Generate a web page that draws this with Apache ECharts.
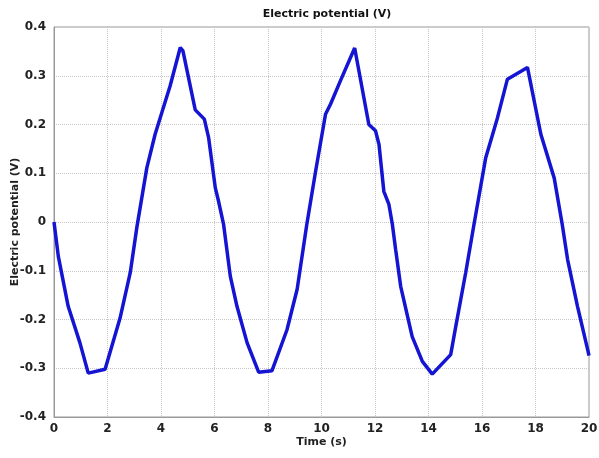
<!DOCTYPE html>
<html>
<head>
<meta charset="utf-8">
<script src="https://cdn.jsdelivr.net/npm/echarts@6/dist/echarts.min.js"></script>
<style>
  html, body { margin: 0; padding: 0; background: #fff; }
  #main { width: 599px; height: 458px; }
</style>
</head>
<body>
<div id="main"></div>
<script>
// time (s) and electric potential (V)
var times = [0, 0.16, 0.53, 0.97, 1.28, 1.91, 2.47, 2.85, 3.1, 3.47, 3.78, 4.09, 4.34, 4.72, 4.82,
  5.28, 5.62, 5.78, 6.03, 6.15, 6.34, 6.59, 6.84, 7.22, 7.65, 8.15, 8.71, 9.09, 9.45, 9.78,
  10.15, 10.34, 10.71, 11.24, 11.77, 12.02, 12.15, 12.33, 12.52, 12.65, 12.77, 12.96, 13.39, 13.77,
  14.14, 14.83, 15.02, 15.39, 15.7, 16.14, 16.58, 16.95, 17.7, 18.2, 18.7, 19.0, 19.2, 19.57, 19.95, 20];
var potential = [0, -0.07, -0.173, -0.248, -0.31, -0.302, -0.197, -0.104, -0.01, 0.111, 0.18, 0.235, 0.279, 0.358, 0.351,
  0.23, 0.211, 0.173, 0.07, 0.043, -0.005, -0.111, -0.173, -0.248, -0.308, -0.305, -0.221, -0.138, -0.005, 0.104,
  0.221, 0.242, 0.29, 0.357, 0.2, 0.187, 0.159, 0.063, 0.036, -0.005, -0.056, -0.132, -0.235, -0.286,
  -0.312, -0.272, -0.214, -0.104, -0.005, 0.132, 0.214, 0.293, 0.317, 0.18, 0.09, -0.005, -0.077, -0.173, -0.262, -0.274];

var points = times.map(function (t, i) { return [t, potential[i]]; });

var chart = echarts.init(document.getElementById('main'));

var labelStyle = { color: '#222', fontWeight: 'bold', fontSize: 12, fontFamily: 'DejaVu Sans' };
var nameStyle = { color: '#222', fontWeight: 'bold', fontSize: 11, fontFamily: 'DejaVu Sans' };
var gridLine = { show: true, lineStyle: { color: '#c8c8c8', type: 'dotted', width: 1 } };

chart.setOption({
    animation: false,
    title: {
        text: 'Electric potential (V)',
        left: 322, top: 4, textAlign: 'center',
        textStyle: { color: '#111', fontWeight: 'bold', fontSize: 11, fontFamily: 'DejaVu Sans' }
    },
    grid: {
        left: 54, right: 10, top: 27, bottom: 41,
        containLabel: false, outerBoundsMode: 'none',
        show: true, borderColor: '#999', borderWidth: 1
    },
    xAxis: {
        type: 'value', min: 0, max: 20, interval: 2,
        name: 'Time (s)', nameLocation: 'middle', nameGap: 20, nameMoveOverlap: false,
        nameTextStyle: nameStyle,
        axisLine: { onZero: false, lineStyle: { color: '#999' } },
        axisTick: { show: false },
        axisLabel: Object.assign({ margin: 6 }, labelStyle),
        splitLine: gridLine
    },
    yAxis: {
        type: 'value', min: -0.4, max: 0.4, interval: 0.1,
        name: 'Electric potential (V)', nameLocation: 'middle', nameGap: 33, nameMoveOverlap: false,
        nameTextStyle: nameStyle,
        axisLine: { show: true, onZero: false, lineStyle: { color: '#999' } },
        axisTick: { show: false },
        axisLabel: Object.assign({ margin: 8 }, labelStyle),
        splitLine: gridLine
    },
    series: [{
        type: 'line',
        data: points,
        showSymbol: false,
        lineStyle: { color: '#1414d2', width: 3.5 }
    }]
});
</script>
</body>
</html>
